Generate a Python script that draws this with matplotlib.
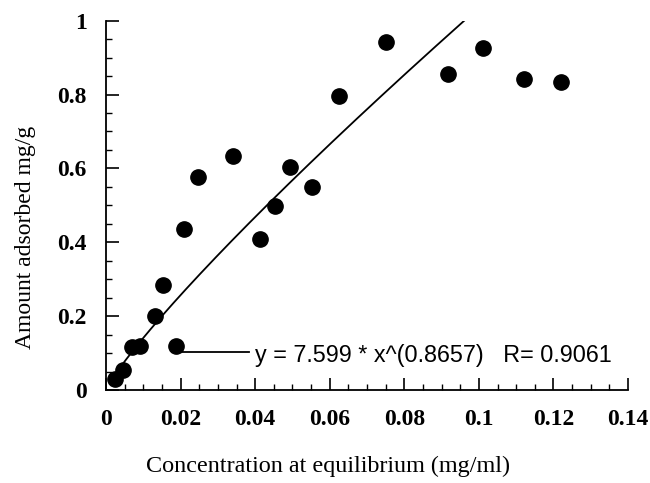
import numpy as np
import matplotlib
matplotlib.use("Agg")
import matplotlib.pyplot as plt
from matplotlib.ticker import MultipleLocator, FuncFormatter

# Data
conc = [0.0025, 0.0045, 0.0070, 0.0091, 0.0131, 0.0154, 0.0188, 0.0209, 0.0246, 0.0341,
        0.0412, 0.0454, 0.0493, 0.0552, 0.0625, 0.0750, 0.0917, 0.1010, 0.1120, 0.1220]
adsorbed = [0.030, 0.055, 0.117, 0.120, 0.200, 0.283, 0.120, 0.436, 0.577, 0.633,
            0.408, 0.497, 0.605, 0.550, 0.795, 0.943, 0.857, 0.927, 0.842, 0.835]

# Fitted power law shown on the chart: y = a * x^b
fit_a = 7.599
fit_b = 0.8657
fit_x_start = 0.0025
fit_x_end = 0.0966
fit_label = "y = 7.599 * x^(0.8657)   R= 0.9061"

x_ticks = [0, 0.02, 0.04, 0.06, 0.08, 0.1, 0.12, 0.14]
y_ticks = [0, 0.2, 0.4, 0.6, 0.8, 1]

fig = plt.figure(figsize=(6.5, 4.83), dpi=100)
ax = fig.add_axes([106/650, 93/483, (628-106)/650, (390-20.7)/483])

ax.plot(conc, adsorbed, 'o', color='black', markersize=11, zorder=3)

fx = np.linspace(fit_x_start, fit_x_end, 200)
ax.plot(fx, fit_a * fx ** fit_b, color='black', linewidth=1.3)

# equation annotation
ax.plot([0.0203, 0.0383], [0.102, 0.102], color='black', linewidth=1.3)
ax.text(0.0399, 0.077, fit_label, fontsize=16.8, family='Liberation Sans',
        ha='left', va='baseline')

ax.set_xlim(0, 0.14)
ax.set_ylim(0, 1)
ax.set_xticks(x_ticks)
ax.set_yticks(y_ticks)
ax.xaxis.set_minor_locator(MultipleLocator(0.005))
ax.yaxis.set_minor_locator(MultipleLocator(0.05))
fmt = FuncFormatter(lambda v, p: '%g' % round(v, 4))
ax.xaxis.set_major_formatter(fmt)
ax.yaxis.set_major_formatter(fmt)

for s in ['top', 'right']:
    ax.spines[s].set_visible(False)
for s in ['left', 'bottom']:
    ax.spines[s].set_linewidth(1.3)

ax.tick_params(which='major', direction='in', length=9, width=1.2)
ax.tick_params(which='minor', direction='in', length=4.5, width=1.0)
ax.tick_params(axis='x', which='major', pad=14)
ax.tick_params(axis='y', which='major', pad=14)
for lab in ax.get_xticklabels() + ax.get_yticklabels():
    lab.set_fontfamily('Liberation Serif')
    lab.set_fontweight('bold')
    lab.set_fontsize(17)

fig.text(328/650, 11/483, "Concentration at equilibrium (mg/ml)", fontsize=17.4,
         family='Liberation Serif', ha='center', va='baseline')
fig.text(26/650, (483-237)/483, "Amount adsorbed mg/g", fontsize=17,
         family='Liberation Serif', ha='center', va='center', rotation=90)

fig.savefig("out.png", dpi=100)
